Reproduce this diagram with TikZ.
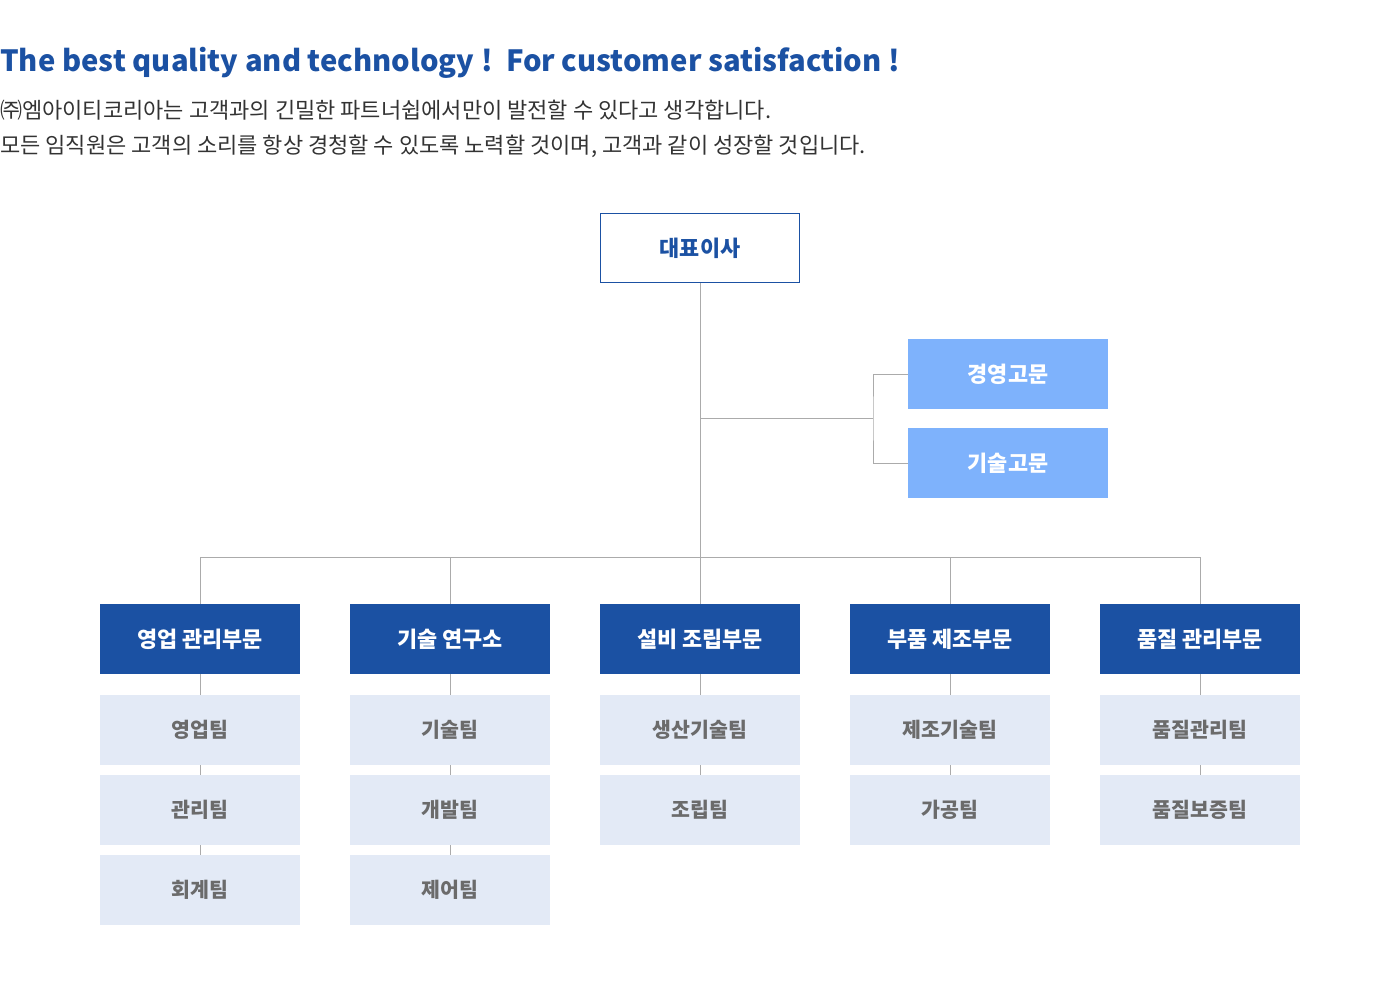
\documentclass[tikz,border=0pt]{standalone}
\usepackage{fontspec}
\setmainfont{Noto Sans CJK KR}
\definecolor{dblue}{HTML}{1B51A3}
\definecolor{lblue}{HTML}{7EB2FC}
\definecolor{tfill}{HTML}{E3EAF6}
\definecolor{ttext}{HTML}{6B6B6B}
\definecolor{lgray}{HTML}{ABABAB}
\definecolor{body}{HTML}{333333}
\begin{document}
\begin{tikzpicture}[x=0.75pt,y=-0.75pt,
  boxbase/.style={minimum width=150pt,minimum height=52.5pt,inner sep=0pt,font=\fontsize{16.4}{19}\selectfont\bfseries},
  ceobox/.style={boxbase,draw=dblue,line width=0.9pt,fill=white,text=dblue,minimum width=149pt,minimum height=51.5pt},
  advbox/.style={boxbase,fill=lblue,text=white},
  deptbox/.style={boxbase,fill=dblue,text=white},
  teambox/.style={boxbase,fill=tfill,text=ttext,font=\fontsize{15.4}{18}\selectfont\bfseries},
  conn/.style={draw=lgray,line width=0.75pt},
  txt/.style={inner sep=0pt,anchor=base west}]
\useasboundingbox (0,0) rectangle (1400,988);

\node[txt,text=dblue,font=\fontsize{21.9}{26}\selectfont\bfseries] (title) at (0,72) {The best quality and technology !\ \ For customer satisfaction !};
\node[txt,text=body,font=\fontsize{16.5}{19}\selectfont] (l1) at (0,118.5) {㈜엠아이티코리아는 고객과의 긴밀한 파트너쉽에서만이 발전할 수 있다고 생각합니다.};
\node[txt,text=body,font=\fontsize{16.5}{19}\selectfont] (l2) at (0,153.5) {모든 임직원은 고객의 소리를 항상 경청할 수 있도록 노력할 것이며, 고객과 같이 성장할 것입니다.};

\coordinate (j1) at (700,418);
\coordinate (j2) at (873,418);
\coordinate (bus) at (700,557);
\coordinate (b1) at (200,557);
\coordinate (b5) at (1200,557);

\node[ceobox] (ceo) at (700,248) {대표이사};
\node[advbox] (adv1) at (1008,374) {경영고문};
\node[advbox] (adv2) at (1008,463) {기술고문};

\node[deptbox] (d1) at (200,639) {영업 관리부문};
\node[deptbox] (d2) at (450,639) {기술 연구소};
\node[deptbox] (d3) at (700,639) {설비 조립부문};
\node[deptbox] (d4) at (950,639) {부품 제조부문};
\node[deptbox] (d5) at (1200,639) {품질 관리부문};

\node[teambox] (t11) at (200,730) {영업팀};
\node[teambox] (t12) at (200,810) {관리팀};
\node[teambox] (t13) at (200,890) {회계팀};
\node[teambox] (t21) at (450,730) {기술팀};
\node[teambox] (t22) at (450,810) {개발팀};
\node[teambox] (t23) at (450,890) {제어팀};
\node[teambox] (t31) at (700,730) {생산기술팀};
\node[teambox] (t32) at (700,810) {조립팀};
\node[teambox] (t41) at (950,730) {제조기술팀};
\node[teambox] (t42) at (950,810) {가공팀};
\node[teambox] (t51) at (1200,730) {품질관리팀};
\node[teambox] (t52) at (1200,810) {품질보증팀};

\draw[conn] (ceo.south) -- (bus);
\draw[conn] (j1) -- (j2);
\draw[conn] (adv1.west) -| (j2) |- (adv2.west);
\draw[conn] (d1.north) -- (b1) -- (b5) -- (d5.north);
\draw[conn] (d2.north) -- (d2.north |- bus);
\draw[conn] (d3.north) -- (bus);
\draw[conn] (d4.north) -- (d4.north |- bus);

\draw[conn] (d1.south) -- (t11.north) (t11.south) -- (t12.north) (t12.south) -- (t13.north);
\draw[conn] (d2.south) -- (t21.north) (t21.south) -- (t22.north) (t22.south) -- (t23.north);
\draw[conn] (d3.south) -- (t31.north) (t31.south) -- (t32.north);
\draw[conn] (d4.south) -- (t41.north) (t41.south) -- (t42.north);
\draw[conn] (d5.south) -- (t51.north) (t51.south) -- (t52.north);
\end{tikzpicture}
\end{document}
